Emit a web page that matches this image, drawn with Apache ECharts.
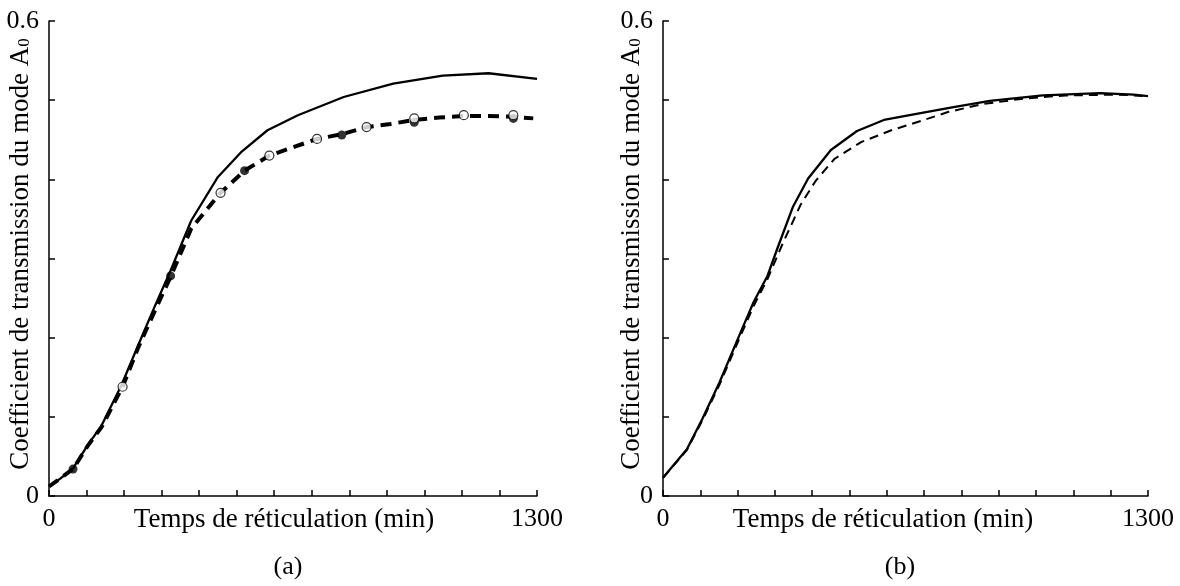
<!DOCTYPE html>
<html>
<head>
<meta charset="utf-8">
<script src="https://cdn.jsdelivr.net/npm/echarts@6/dist/echarts.min.js"></script>
<style>
html,body{margin:0;padding:0;background:#fff;}
#chart{width:1180px;height:586px;}
</style>
</head>
<body>
<div id="chart"></div>
<script>
// ---- Data ----
// Panel (a)
var aSolidX = [0, 30, 64, 104, 140, 192, 239, 284, 324, 379, 450, 511, 582, 663, 785, 917, 1049, 1171, 1300];
var aSolidY = [0.012, 0.022, 0.035, 0.065, 0.089, 0.139, 0.192, 0.242, 0.285, 0.348, 0.403, 0.434, 0.462, 0.481, 0.504, 0.521, 0.531, 0.534, 0.527];
var aDashX = [0, 64, 104, 140, 196, 239, 284, 324, 379, 457, 521, 587, 653, 714, 780, 846, 910, 973, 1040, 1105, 1170, 1237, 1290];
var aDashY = [0.012, 0.034, 0.064, 0.087, 0.138, 0.189, 0.236, 0.277, 0.338, 0.383, 0.411, 0.430, 0.441, 0.451, 0.457, 0.466, 0.470, 0.475, 0.478, 0.480, 0.480, 0.479, 0.477];
var aFilledX = [64, 324, 521, 780, 973, 1237];
var aFilledY = [0.034, 0.278, 0.411, 0.456, 0.472, 0.477];
var aOpenX = [196, 457, 587, 714, 846, 973, 1105, 1237];
var aOpenY = [0.138, 0.383, 0.430, 0.451, 0.466, 0.477, 0.481, 0.481];
// Panel (b)
var bSolidX = [0, 64, 105, 151, 202, 243, 280, 306, 348, 389, 450, 520, 592, 683, 775, 876, 1018, 1171, 1262, 1300];
var bSolidY = [0.023, 0.059, 0.097, 0.143, 0.200, 0.245, 0.278, 0.312, 0.365, 0.401, 0.437, 0.461, 0.475, 0.483, 0.491, 0.499, 0.506, 0.509, 0.507, 0.505];
var bDashX = [0, 64, 105, 151, 202, 243, 280, 320, 369, 409, 460, 531, 612, 693, 764, 856, 967, 1079, 1221, 1300];
var bDashY = [0.023, 0.058, 0.095, 0.140, 0.196, 0.240, 0.274, 0.318, 0.368, 0.398, 0.426, 0.447, 0.462, 0.474, 0.485, 0.495, 0.502, 0.506, 0.507, 0.505];
// Axis text
var xMin = 0, xMax = 1300, xStep = 100;
var yMin = 0, yMax = 0.6, yStep = 0.1;
var xTickLabels = ['0', '1300'];
var yTickLabels = ['0', '0.6'];
var xTitle = 'Temps de réticulation (min)';
var yTitle = 'Coefficient de transmission du mode A';
var ySub = '0';
var captions = ['(a)', '(b)'];

function pairs(xs, ys) { return xs.map(function (x, i) { return [x, ys[i]]; }); }

var FONT = 'Liberation Serif';

function xAxisDef(gi) {
  return {
    type: 'value', gridIndex: gi, min: xMin, max: xMax, interval: xStep,
    axisLine: { show: true, onZero: false, lineStyle: { color: '#000', width: 1.5 } },
    axisTick: { show: true, inside: true, length: 6, lineStyle: { color: '#000', width: 1.5 } },
    splitLine: { show: false },
    axisLabel: {
      show: true, margin: 10, fontFamily: FONT, fontSize: 26, color: '#000',
      showMinLabel: true, showMaxLabel: true,
      formatter: function (v) {
        if (v === xMin) return xTickLabels[0];
        if (v === xMax) return xTickLabels[1];
        return '';
      }
    }
  };
}
function yAxisDef(gi) {
  return {
    type: 'value', gridIndex: gi, min: yMin, max: yMax, interval: yStep,
    axisLine: { show: true, onZero: false, lineStyle: { color: '#000', width: 1.5 } },
    axisTick: { show: true, inside: true, length: 6, lineStyle: { color: '#000', width: 1.5 } },
    splitLine: { show: false },
    axisLabel: {
      show: true, margin: 10, fontFamily: FONT, fontSize: 26, color: '#000',
      showMinLabel: true, showMaxLabel: true,
      formatter: function (v) {
        if (Math.abs(v - yMin) < 1e-9) return yTickLabels[0];
        if (Math.abs(v - yMax) < 1e-9) return yTickLabels[1];
        return '';
      }
    }
  };
}

var solidStyle = { color: '#000', width: 2.3, type: 'solid' };
var titleSize = 27;

function yName(x) {
  return { type: 'text', x: x, y: 254, rotation: Math.PI / 2,
    style: { text: yTitle + '{s|' + ySub + '}', fontFamily: FONT, fontSize: titleSize, fill: '#000', align: 'center', verticalAlign: 'middle',
      rich: { s: { fontFamily: FONT, fontSize: 17, fill: '#000', padding: [8, 0, 0, 0] } } } };
}
function plainText(x, y, t, size) {
  return { type: 'text', x: x, y: y, style: { text: t, fontFamily: FONT, fontSize: size, fill: '#000', align: 'center', verticalAlign: 'middle' } };
}

var option = {
  animation: false,
  backgroundColor: '#fff',
  grid: [
    { left: 49, right: 643, top: 21, bottom: 90, containLabel: false },
    { left: 663, right: 32, top: 21, bottom: 90, containLabel: false }
  ],
  xAxis: [xAxisDef(0), xAxisDef(1)],
  yAxis: [yAxisDef(0), yAxisDef(1)],
  series: [
    { type: 'line', xAxisIndex: 0, yAxisIndex: 0, data: pairs(aSolidX, aSolidY), showSymbol: false, lineStyle: solidStyle, z: 3 },
    { type: 'line', xAxisIndex: 0, yAxisIndex: 0, data: pairs(aDashX, aDashY), showSymbol: false, lineStyle: { color: '#000', width: 4, type: [11, 7] }, z: 3 },
    { type: 'scatter', xAxisIndex: 0, yAxisIndex: 0, data: pairs(aFilledX, aFilledY), symbol: 'circle', symbolSize: 9, itemStyle: { color: '#000' }, z: 4 },
    { type: 'scatter', xAxisIndex: 0, yAxisIndex: 0, data: pairs(aOpenX, aOpenY), symbol: 'circle', symbolSize: 9, itemStyle: { color: '#fff', borderColor: '#000', borderWidth: 1.2 }, z: 5 },
    { type: 'line', xAxisIndex: 1, yAxisIndex: 1, data: pairs(bSolidX, bSolidY), showSymbol: false, lineStyle: solidStyle, z: 3 },
    { type: 'line', xAxisIndex: 1, yAxisIndex: 1, data: pairs(bDashX, bDashY), showSymbol: false, lineStyle: { color: '#000', width: 2, type: [9, 6] }, z: 3 }
  ],
  graphic: [
    yName(21),
    yName(632),
    plainText(284, 520, xTitle, titleSize),
    plainText(883, 520, xTitle, titleSize),
    plainText(288, 567, captions[0], 26),
    plainText(900, 567, captions[1], 26)
  ]
};

var chart = echarts.init(document.getElementById('chart'), null, { renderer: 'canvas' });
chart.setOption(option);
</script>
</body>
</html>
